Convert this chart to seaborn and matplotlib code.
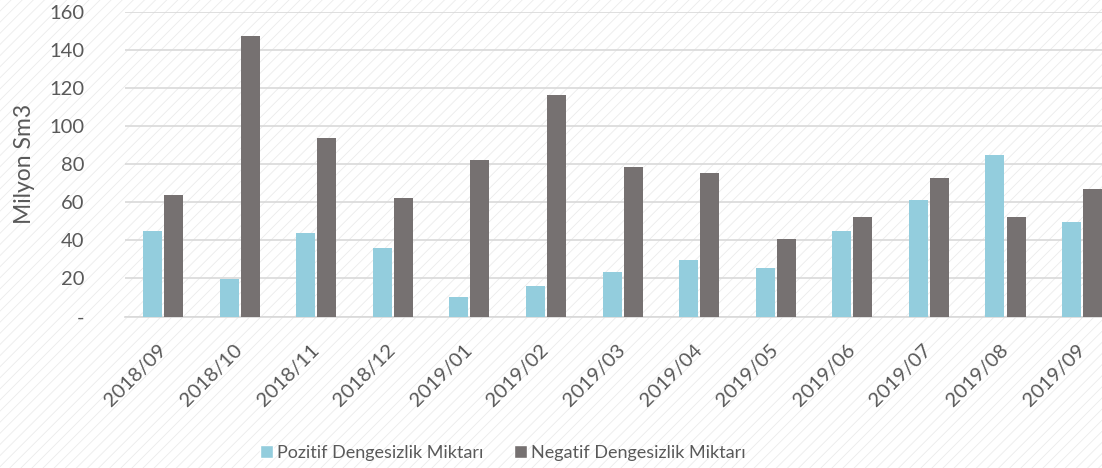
import pandas as pd
import seaborn as sns
import matplotlib.pyplot as plt
from matplotlib.patches import Rectangle

# --- DATI ---
months = ["2018/09", "2018/10", "2018/11", "2018/12", "2019/01", "2019/02", "2019/03",
          "2019/04", "2019/05", "2019/06", "2019/07", "2019/08", "2019/09"]
pozitif = [45, 19.7, 44, 36, 10, 16, 23.4, 29.5, 25.5, 45, 61.2, 84.7, 49.8]
negatif = [64, 147.4, 94, 62.5, 82, 116.5, 78.7, 75.2, 40.9, 52.5, 72.6, 52.5, 67.2]
series = ["Pozitif Dengesizlik Miktarı", "Negatif Dengesizlik Miktarı"]
colors = ["#93CDDD", "#767171"]
yticks = [0, 20, 40, 60, 80, 100, 120, 140, 160]
ytick_labels = ["-", "20", "40", "60", "80", "100", "120", "140", "160"]

df = pd.DataFrame({
    "Ay": months * 2,
    "Miktar": pozitif + negatif,
    "Seri": [series[0]] * len(months) + [series[1]] * len(months),
})

sns.set_theme(style="white")
plt.rcParams['font.family'] = ['Lato', 'DejaVu Sans']
plt.rcParams['hatch.linewidth'] = 0.6
text_color = "#595959"

fig = plt.figure(figsize=(11.02, 4.68), dpi=100)
# sfondo tratteggiato leggero
fig.patches.append(Rectangle((0, 0), 1, 1, transform=fig.transFigure, facecolor="white",
                             edgecolor="#ebebeb", hatch="///", linewidth=0, zorder=-10))

ax = fig.add_axes([0.1132, 0.3237, 0.8868, 0.6507])
ax.patch.set_alpha(0)

sns.barplot(data=df, x="Ay", y="Miktar", hue="Seri", palette=colors, saturation=1,
            width=0.55, gap=0.1, linewidth=0, ax=ax, zorder=3)

ax.set_ylim(0, 160)
ax.set_xlim(-0.5, 12.26)
ax.set_yticks(yticks)
ax.set_yticklabels(ytick_labels)
ax.yaxis.grid(True, color="#d9d9d9", linewidth=1.2, zorder=0)
ax.set_axisbelow(True)
for s in ["top", "right", "left"]:
    ax.spines[s].set_visible(False)
ax.spines["bottom"].set_color("#d9d9d9")
ax.spines["bottom"].set_linewidth(1.2)

ax.tick_params(axis="y", length=0, pad=29, labelsize=14.5, labelcolor=text_color)
ax.tick_params(axis="x", length=0, pad=22, labelsize=14.5, labelcolor=text_color)
plt.setp(ax.get_xticklabels(), rotation=45, ha="right", va="center", rotation_mode="anchor")

ax.set_xlabel("")
ax.set_ylabel("Milyon Sm3", fontsize=16.5, color=text_color, labelpad=10)

ax.get_legend().remove()
handles = [Rectangle((0, 0), 1, 1, facecolor=c) for c in colors]
fig.legend(handles, series, loc="center", bbox_to_anchor=(503 / 1102, 1 - 453 / 468), ncol=2,
           frameon=False, fontsize=13, labelcolor=text_color, handlelength=0.7, handleheight=0.7,
           handletextpad=0.25, columnspacing=1.7)

fig.savefig("out.png", dpi=100)
